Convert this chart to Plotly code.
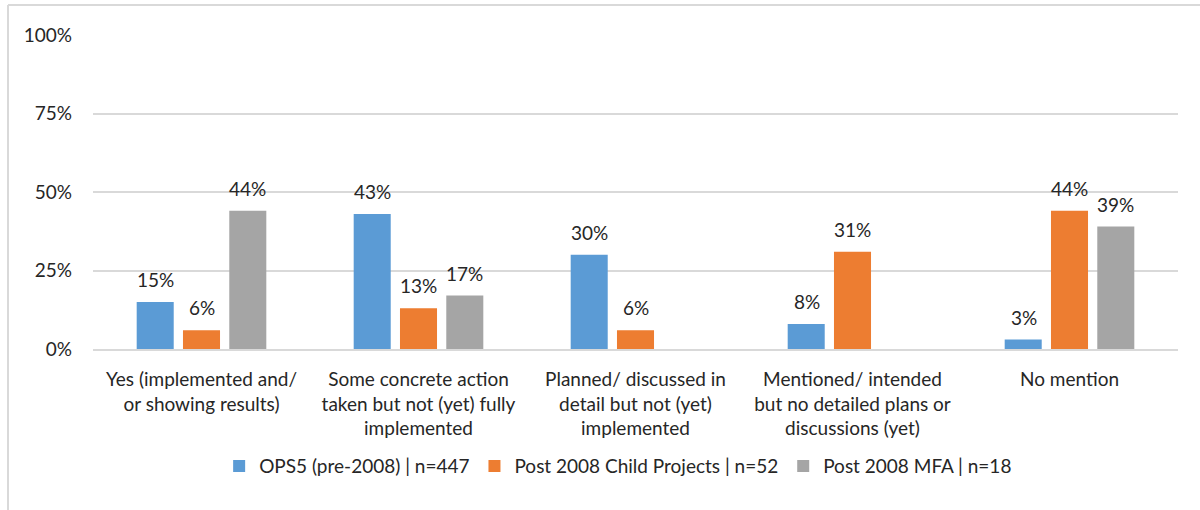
import plotly.graph_objects as go

categories = [
    "Yes (implemented and/<br>or showing results)",
    "Some concrete action<br>taken but not (yet) fully<br>implemented",
    "Planned/ discussed in<br>detail but not (yet)<br>implemented",
    "Mentioned/ intended<br>but no detailed plans or<br>discussions (yet)",
    "No mention",
]
series_names = [
    "OPS5 (pre-2008) | n=447",
    "Post 2008 Child Projects | n=52",
    "Post 2008 MFA | n=18",
]
ops5 = [0.15, 0.43, 0.30, 0.08, 0.03]
child = [0.06, 0.13, 0.06, 0.31, 0.44]
mfa = [0.44, 0.17, None, None, 0.39]
colors = ["#5B9BD5", "#ED7D31", "#A5A5A5"]

FONT = "Lato, 'Open Sans', sans-serif"
TXT = "#262626"

fig = go.Figure()
annotations = []
offsets = [-46, 0, 46]
for name, vals, col, off in zip(series_names, [ops5, child, mfa], colors, offsets):
    fig.add_trace(go.Bar(
        x=categories, y=vals, name=name,
        marker=dict(color=col, line=dict(width=0)),
    ))
    for c, v in zip(categories, vals):
        if v is None:
            continue
        annotations.append(dict(
            x=c, y=v, xref="x", yref="y", text=f"{v:.0%}", showarrow=False,
            xshift=off, yshift=9, yanchor="bottom",
            font=dict(size=19, color=TXT, family=FONT),
        ))

top = (349 - 5) / 314
left = -85 / 1085
fig.update_layout(
    width=1200, height=510,
    barmode="group", bargap=0.36, bargroupgap=0.2,
    plot_bgcolor="white", paper_bgcolor="white",
    margin=dict(l=93, r=22, t=35, b=161),
    font=dict(family=FONT, size=19, color=TXT),
    showlegend=True,
    legend=dict(orientation="h", x=0.484, xanchor="center", y=-0.373, yanchor="middle",
                font=dict(size=19, color=TXT), itemwidth=30, tracegroupgap=0),
    yaxis=dict(range=[0, 1], tickvals=[0, 0.25, 0.5, 0.75, 1], tickformat=".0%",
               showgrid=True, gridcolor="#D9D9D9", gridwidth=2, zeroline=False,
               showline=False, ticks="", ticklabelstandoff=20,
               tickfont=dict(size=19, color=TXT)),
    xaxis=dict(showline=True, linecolor="#D9D9D9", linewidth=2, ticks="",
               ticklabelstandoff=12,
               tickfont=dict(size=19, color=TXT)),
    annotations=annotations,
    shapes=[
        dict(type="line", xref="paper", yref="paper", x0=left, x1=1.2, y0=top, y1=top,
             line=dict(color="#D9D9D9", width=2)),
        dict(type="line", xref="paper", yref="paper", x0=left, x1=left, y0=top, y1=-1.0,
             line=dict(color="#D9D9D9", width=2)),
    ],
)

fig.write_html("out.html", config={"displayModeBar": False},
               post_script="document.body.style.margin='0';document.body.style.overflow='hidden';")
